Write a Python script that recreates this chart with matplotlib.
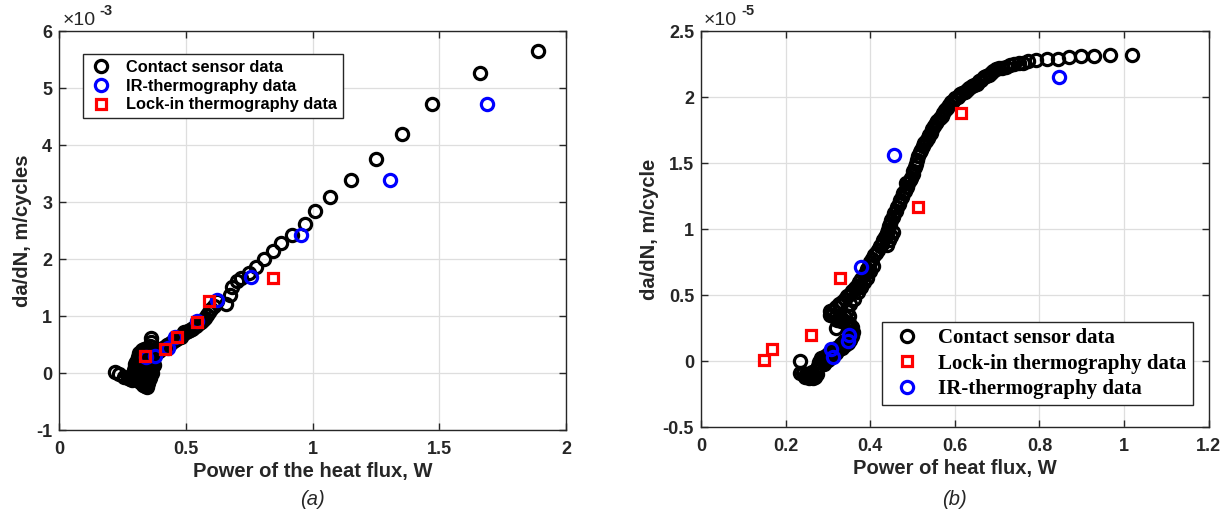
import numpy as np
import matplotlib
matplotlib.use("Agg")
import matplotlib.pyplot as plt

plt.rcParams['font.family'] = ['Liberation Sans', 'DejaVu Sans']
plt.rcParams['axes.unicode_minus'] = False

# ---- panel (a): da/dN in units of 1e-3 m/cycle ----
contact_a_x = [1.890, 1.659, 1.470, 1.351, 1.250, 1.153, 1.069, 1.010, 0.968, 0.919,
               0.875, 0.842, 0.809, 0.777, 0.749, 0.717, 0.700, 0.681, 0.675, 0.660,
               0.623, 0.610, 0.600, 0.592, 0.583, 0.575, 0.569, 0.560, 0.553, 0.546,
               0.538, 0.530, 0.523, 0.516, 0.508, 0.500, 0.494, 0.487, 0.479, 0.470,
               0.463, 0.456, 0.448, 0.440, 0.433, 0.425, 0.418, 0.411, 0.403, 0.395,
               0.388, 0.380, 0.372, 0.365, 0.362, 0.362, 0.360, 0.358, 0.350, 0.345,
               0.340, 0.335, 0.330, 0.325, 0.320, 0.315, 0.318, 0.325, 0.330, 0.338,
               0.343, 0.346, 0.350, 0.355, 0.358, 0.355, 0.350, 0.345, 0.340, 0.335,
               0.328, 0.322, 0.330, 0.338, 0.310, 0.305, 0.312, 0.300, 0.295, 0.287,
               0.222, 0.238, 0.254, 0.270, 0.280,
               0.300, 0.305, 0.310, 0.315, 0.325, 0.335, 0.345, 0.355, 0.360, 0.362,
               0.365, 0.360, 0.352, 0.340, 0.335, 0.325, 0.320, 0.302, 0.310, 0.320,
               0.332, 0.370, 0.368, 0.372, 0.375, 0.295, 0.298, 0.350, 0.340, 0.330]
contact_a_y = [5.65, 5.26, 4.72, 4.20, 3.75, 3.38, 3.09, 2.84, 2.62, 2.43,
               2.29, 2.14, 2.01, 1.86, 1.75, 1.67, 1.62, 1.51, 1.37, 1.22,
               1.27, 1.18, 1.12, 1.08, 1.02, 0.97, 0.94, 0.90, 0.88, 0.86,
               0.83, 0.80, 0.78, 0.76, 0.74, 0.73, 0.72, 0.68, 0.64, 0.62,
               0.60, 0.58, 0.56, 0.53, 0.51, 0.49, 0.46, 0.44, 0.42, 0.39,
               0.37, 0.35, 0.33, 0.31, 0.62, 0.55, 0.48, 0.42, 0.38, 0.32,
               0.26, 0.20, 0.15, 0.10, 0.06, 0.02, -0.04, -0.08, -0.12, -0.16,
               -0.20, -0.25, -0.18, -0.10, -0.02, 0.05, 0.12, 0.18, 0.08, 0.00,
               -0.02, 0.18, 0.30, 0.36, 0.12, 0.05, -0.08, -0.02, -0.10, -0.12,
               0.02, -0.02, -0.06, -0.09, -0.11,
               0.10, 0.20, 0.28, 0.35, 0.40, 0.42, 0.40, 0.30, 0.20, 0.10,
               0.00, -0.08, -0.15, -0.22, -0.05, 0.25, 0.30, -0.05, -0.12, -0.15,
               -0.20, 0.20, 0.10, 0.28, 0.15, 0.05, 0.16, 0.24, 0.34, -0.06]
ir_a_x = [1.688, 1.304, 0.955, 0.758, 0.623, 0.543, 0.456, 0.429, 0.379, 0.343]
ir_a_y = [4.72, 3.38, 2.43, 1.68, 1.29, 0.91, 0.63, 0.44, 0.30, 0.28]
lockin_a_x = [0.842, 0.592, 0.545, 0.466, 0.417, 0.340]
lockin_a_y = [1.66, 1.27, 0.89, 0.63, 0.42, 0.30]

# ---- panel (b): da/dN in units of 1e-5 m/cycle ----
contact_b_x = [0.234, 0.234, 0.241, 0.248, 0.255, 0.262, 0.269, 0.273, 0.276, 0.280,
               0.284, 0.290, 0.296, 0.301, 0.306, 0.310, 0.315, 0.320, 0.326, 0.332,
               0.338, 0.344, 0.350, 0.355, 0.356, 0.352, 0.348, 0.343, 0.336, 0.328,
               0.320, 0.310, 0.304, 0.306, 0.312, 0.320, 0.327, 0.334, 0.340, 0.346,
               0.352, 0.358, 0.364, 0.369, 0.374, 0.379, 0.385, 0.389, 0.392, 0.396,
               0.399, 0.404, 0.409, 0.413, 0.418, 0.422, 0.427, 0.431, 0.436, 0.440,
               0.442, 0.445, 0.447, 0.450, 0.453, 0.456, 0.460, 0.463, 0.467, 0.471,
               0.475, 0.478, 0.482, 0.486, 0.490, 0.493, 0.497, 0.500, 0.502, 0.505,
               0.508, 0.510, 0.513, 0.517, 0.521, 0.524, 0.528, 0.532, 0.536, 0.540,
               0.543, 0.546, 0.550, 0.555, 0.559, 0.564, 0.569, 0.573, 0.578, 0.582,
               0.587, 0.591, 0.596, 0.601, 0.607, 0.612, 0.618, 0.623, 0.629, 0.634,
               0.640, 0.646, 0.652, 0.657, 0.663, 0.668, 0.674, 0.680, 0.685, 0.691,
               0.697, 0.704, 0.712, 0.721, 0.731, 0.741, 0.751, 0.762, 0.773, 0.793,
               0.817, 0.843, 0.870, 0.899, 0.929, 0.968, 1.019, 0.319, 0.485,
               0.290, 0.296, 0.300, 0.305, 0.312, 0.318, 0.325, 0.333, 0.340, 0.347,
               0.352, 0.358, 0.360, 0.357, 0.351, 0.330, 0.322, 0.340, 0.350, 0.345,
               0.352, 0.362, 0.370, 0.378, 0.386, 0.393, 0.400, 0.406, 0.440, 0.445,
               0.450, 0.455, 0.245, 0.255, 0.265, 0.275, 0.262]
contact_b_y = [0.00, -0.09, -0.09, -0.10, -0.10, -0.11, -0.12, -0.07, -0.04, -0.01,
               0.02, 0.03, 0.04, 0.05, 0.06, 0.07, 0.09, 0.10, 0.11, 0.13,
               0.15, 0.16, 0.18, 0.20, 0.23, 0.25, 0.27, 0.29, 0.31, 0.33,
               0.34, 0.35, 0.35, 0.38, 0.39, 0.41, 0.43, 0.45, 0.47, 0.49,
               0.51, 0.53, 0.55, 0.57, 0.60, 0.62, 0.65, 0.67, 0.70, 0.72,
               0.75, 0.77, 0.80, 0.82, 0.84, 0.87, 0.89, 0.92, 0.94, 0.97,
               0.99, 1.02, 1.04, 1.07, 1.09, 1.12, 1.14, 1.17, 1.19, 1.22,
               1.24, 1.27, 1.29, 1.32, 1.35, 1.37, 1.39, 1.42, 1.44, 1.47,
               1.49, 1.52, 1.55, 1.58, 1.60, 1.63, 1.65, 1.67, 1.69, 1.71,
               1.73, 1.76, 1.78, 1.80, 1.82, 1.84, 1.86, 1.88, 1.90, 1.92,
               1.94, 1.96, 1.97, 1.99, 2.00, 2.02, 2.03, 2.04, 2.05, 2.07,
               2.08, 2.09, 2.10, 2.12, 2.13, 2.15, 2.16, 2.17, 2.18, 2.20,
               2.21, 2.22, 2.22, 2.23, 2.24, 2.25, 2.26, 2.26, 2.27, 2.28,
               2.29, 2.29, 2.30, 2.31, 2.31, 2.32, 2.32, 0.25, 1.35,
               -0.02, 0.00, 0.01, 0.02, 0.04, 0.06, 0.08, 0.10, 0.12, 0.14,
               0.16, 0.19, 0.22, 0.26, 0.29, 0.30, 0.31, 0.33, 0.34, 0.38,
               0.43, 0.47, 0.52, 0.56, 0.60, 0.63, 0.68, 0.72, 0.88, 0.92,
               0.95, 0.98, -0.12, -0.13, -0.13, -0.10, -0.08]
ir_b_x = [0.847, 0.457, 0.378, 0.350, 0.347, 0.307, 0.313]
ir_b_y = [2.15, 1.56, 0.71, 0.20, 0.15, 0.09, 0.03]
lockin_b_x = [0.615, 0.513, 0.329, 0.260, 0.167, 0.148]
lockin_b_y = [1.88, 1.17, 0.63, 0.20, 0.09, 0.01]

xticks_a = [0, 0.5, 1, 1.5, 2]
yticks_a = [-1, 0, 1, 2, 3, 4, 5, 6]
xticks_b = [0, 0.2, 0.4, 0.6, 0.8, 1, 1.2]
yticks_b = [-0.5, 0, 0.5, 1, 1.5, 2, 2.5]

fig = plt.figure(figsize=(12.32, 5.17), dpi=100)
ax1 = fig.add_axes([0.048, 0.168, 0.4115, 0.772])
ax2 = fig.add_axes([0.569, 0.174, 0.412, 0.766])

circ = dict(linestyle='none', marker='o', markersize=8.8, markeredgewidth=2.3,
            markerfacecolor='none')
sq = dict(linestyle='none', marker='s', markersize=6.8, markeredgewidth=2.3,
          markerfacecolor='none')

def style(ax, xt, yt, exp):
    ax.set_xticks(xt)
    ax.set_yticks(yt)
    ax.set_xticklabels([f'{v:g}' for v in xt])
    ax.set_yticklabels([f'{v:g}' for v in yt])
    ax.set_xlim(xt[0], xt[-1])
    ax.set_ylim(yt[0], yt[-1])
    ax.grid(True, color='#dedede', linewidth=0.9)
    ax.set_axisbelow(True)
    ax.tick_params(direction='in', top=True, right=True, length=5, width=1,
                   labelsize=13, colors='#262626')
    ax.tick_params(axis='x', pad=8)
    ax.tick_params(axis='y', pad=5)
    for lab in ax.get_xticklabels() + ax.get_yticklabels():
        lab.set_fontweight('bold')
    for sp in ax.spines.values():
        sp.set_color('#262626')
        sp.set_linewidth(1)
    # MATLAB style exponent label above the y axis
    ax.text(0.006, 1.014, '\u00d710', transform=ax.transAxes,
            ha='left', va='baseline', fontsize=14, color='#262626')
    ax.text(0.079, 1.040, f'-{exp}', transform=ax.transAxes,
            ha='left', va='baseline', fontsize=10.5, fontweight='bold',
            color='#262626')

# panel (a)
ax1.plot(contact_a_x, contact_a_y, color='black', label='Contact sensor data', **circ)
ax1.plot(ir_a_x, ir_a_y, color='#0000ff', label='IR-thermography data', **circ)
ax1.plot(lockin_a_x, lockin_a_y, color='#ff0000', label='Lock-in thermography data', **sq)
style(ax1, xticks_a, yticks_a, 3)
ax1.set_xlabel('Power of the heat flux, W', fontsize=14.5, fontweight='bold',
               color='#262626', labelpad=3)
ax1.set_ylabel('da/dN, m/cycles', fontsize=14.5, fontweight='bold',
               color='#262626', labelpad=3)
leg1 = ax1.legend(loc='upper left', bbox_to_anchor=(0.03, 0.962), fancybox=False,
                  edgecolor='#262626', prop={'weight': 'bold', 'size': 11.8},
                  handletextpad=0.7, borderpad=0.35, labelspacing=0.22,
                  handlelength=1.6, framealpha=1)
leg1.get_frame().set_linewidth(1)

# panel (b)
ax2.plot(contact_b_x, contact_b_y, color='black', label='Contact sensor data', **circ)
ax2.plot(lockin_b_x, lockin_b_y, color='#ff0000', label='Lock-in thermography data', **sq)
ax2.plot(ir_b_x, ir_b_y, color='#0000ff', label='IR-thermography data', **circ)
style(ax2, xticks_b, yticks_b, 5)
ax2.set_xlabel('Power of heat flux, W', fontsize=14.5, fontweight='bold',
               color='#262626', labelpad=3)
ax2.set_ylabel('da/dN, m/cycle', fontsize=14.5, fontweight='bold',
               color='#262626', labelpad=3)
leg2 = ax2.legend(loc='lower right', bbox_to_anchor=(0.989, 0.029), fancybox=False,
                  edgecolor='#262626',
                  prop={'family': 'Liberation Serif', 'weight': 'bold', 'size': 15},
                  handletextpad=0.6, borderpad=0.3, labelspacing=0.25,
                  handlelength=1.8, framealpha=1)
leg2.get_frame().set_linewidth(1)

fig.text(0.048 + 0.4115 / 2, 0.033, '(a)', ha='center', va='center',
         fontsize=14.5, style='italic', color='#262626')
fig.text(0.569 + 0.412 / 2, 0.033, '(b)', ha='center', va='center',
         fontsize=14.5, style='italic', color='#262626')

fig.savefig('out.png', dpi=100)
